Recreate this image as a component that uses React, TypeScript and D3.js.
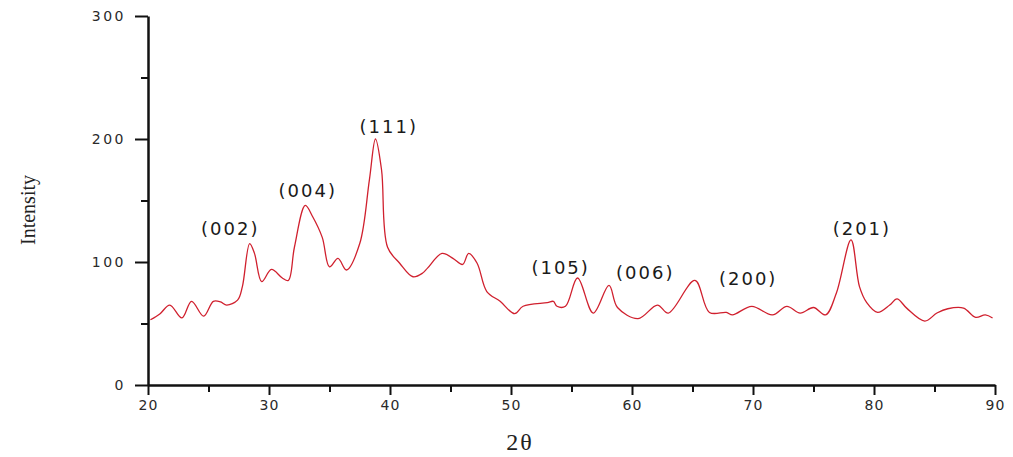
import React from "react";
import * as d3 from "d3";

// 2θ positions and intensities
const twoTheta = [
  20.2, 21.0, 21.8, 22.8, 23.6, 24.6, 25.4, 26.0, 26.5, 27.4, 27.8, 28.4, 28.8, 29.4, 30.2, 31.1, 31.6,
  32.1, 33.0, 33.6, 34.4, 35.0, 35.7, 36.4, 37.5, 38.3, 38.8, 39.3, 39.8, 40.8, 41.9, 42.7, 43.1,
  44.3, 45.2, 46.0, 46.5, 47.2, 48.0, 49.1, 50.3, 51.0, 53.0, 53.5, 53.8, 54.5, 55.5, 56.8, 58.1,
  58.8, 60.5, 62.1, 63.0, 65.2, 66.4, 67.8, 68.3, 69.9, 71.6, 72.8, 73.9, 75.0, 76.0, 76.9, 78.1,
  78.8, 79.4, 80.3, 81.3, 81.9, 82.7, 84.2, 85.2, 86.1, 87.4, 88.4, 89.2, 89.8,
];
const intensity = [
  53, 58, 65, 54.5, 68, 56, 68, 67.5, 65, 69, 80, 115, 107, 84, 94, 87, 85,
  112, 146, 137, 120, 96, 103, 93.5, 115, 167, 200, 175, 112, 99, 88, 91, 95,
  107, 103, 98, 107, 99, 76, 68, 58, 64, 67, 68, 64, 64, 87, 58.5, 81,
  63, 54, 65, 58.5, 85, 59, 59, 57, 64, 57, 64, 58.5, 63, 57, 75, 118,
  80, 67, 59, 65, 70, 62.5, 52, 58.5, 62, 62.5, 55, 57, 54.5,
];

const peakLabels = ["(002)", "(004)", "(111)", "(105)", "(006)", "(200)", "(201)"];
const peakX = [26.8, 33.2, 39.9, 54.1, 61.1, 69.6, 79.0];
const peakY = [122, 153, 205, 90, 86, 81, 122];

const xTicks = [20, 30, 40, 50, 60, 70, 80, 90];
const yTicks = [0, 100, 200, 300];

const W = 1013;
const H = 457;

export default function App() {
  const ref = React.useRef<SVGSVGElement>(null);

  React.useEffect(() => {
    const svg = d3.select(ref.current);
    svg.selectAll("*").remove();

    const x = d3.scaleLinear().domain([20, 90]).range([148, 995]);
    const y = d3.scaleLinear().domain([0, 300]).range([385, 16]);

    const sans = "'DejaVu Sans', Verdana, sans-serif";
    const serif = "'Liberation Serif', 'Times New Roman', serif";

    // minor ticks
    const xAxisMinor = d3.axisBottom(x).tickValues(d3.range(25, 90, 10)).tickSize(7).tickFormat(() => "");
    svg.append("g").attr("transform", "translate(0,385)").call(xAxisMinor)
      .call(g => g.select(".domain").remove())
      .selectAll("line").attr("stroke", "#111").attr("stroke-width", 2);
    const yAxisMinor = d3.axisLeft(y).tickValues([50, 150, 250]).tickSize(7).tickFormat(() => "");
    svg.append("g").attr("transform", "translate(148,0)").call(yAxisMinor)
      .call(g => g.select(".domain").remove())
      .selectAll("line").attr("stroke", "#111").attr("stroke-width", 2);

    // major x axis
    const gx = svg.append("g").attr("transform", "translate(0,385)")
      .call(d3.axisBottom(x).tickValues(xTicks).tickSize(10).tickPadding(5).tickSizeOuter(0));
    gx.select(".domain").attr("stroke", "#111").attr("stroke-width", 2.5);
    gx.selectAll("line").attr("stroke", "#111").attr("stroke-width", 2);
    gx.selectAll("text").attr("font-family", sans).attr("font-size", 14)
      .attr("letter-spacing", 1).attr("fill", "#2a2a2a");

    // major y axis
    const gy = svg.append("g").attr("transform", "translate(148,0)")
      .call(d3.axisLeft(y).tickValues(yTicks).tickSize(13).tickPadding(9).tickSizeOuter(0));
    gy.select(".domain").attr("stroke", "#111").attr("stroke-width", 2.5);
    gy.selectAll("line").attr("stroke", "#111").attr("stroke-width", 2);
    gy.selectAll("text").attr("font-family", sans).attr("font-size", 14)
      .attr("letter-spacing", 2.5).attr("fill", "#2a2a2a");

    // pattern
    const pts = twoTheta.map((t, i) => [t, intensity[i]] as [number, number]);
    const line = d3.line<[number, number]>()
      .x(d => x(d[0]))
      .y(d => y(d[1]))
      .curve(d3.curveCatmullRom.alpha(0.5));
    svg.append("path").datum(pts).attr("d", line)
      .attr("fill", "none").attr("stroke", "#d0202e").attr("stroke-width", 1.3);

    // peak labels
    svg.selectAll("text.peak").data(peakLabels).enter().append("text")
      .attr("class", "peak")
      .attr("x", (d, i) => x(peakX[i]))
      .attr("y", (d, i) => y(peakY[i]))
      .attr("text-anchor", "middle")
      .attr("font-family", sans)
      .attr("font-size", 18)
      .attr("letter-spacing", 2)
      .attr("fill", "#1a1a1a")
      .text(d => d);

    // axis titles
    svg.append("text")
      .attr("transform", "translate(35,210) rotate(-90)")
      .attr("text-anchor", "middle")
      .attr("font-family", serif)
      .attr("font-size", 20)
      .attr("textLength", 70)
      .attr("lengthAdjust", "spacingAndGlyphs")
      .attr("fill", "#222")
      .text("Intensity");
    svg.append("text")
      .attr("x", 520).attr("y", 450)
      .attr("text-anchor", "middle")
      .attr("font-family", serif)
      .attr("font-size", 24)
      .attr("letter-spacing", 2)
      .attr("fill", "#222")
      .text("2θ");
  }, []);

  return (
    <svg ref={ref} width={W} height={H}
      style={{ position: "absolute", left: 0, top: 0, background: "#fff" }} />
  );
}
